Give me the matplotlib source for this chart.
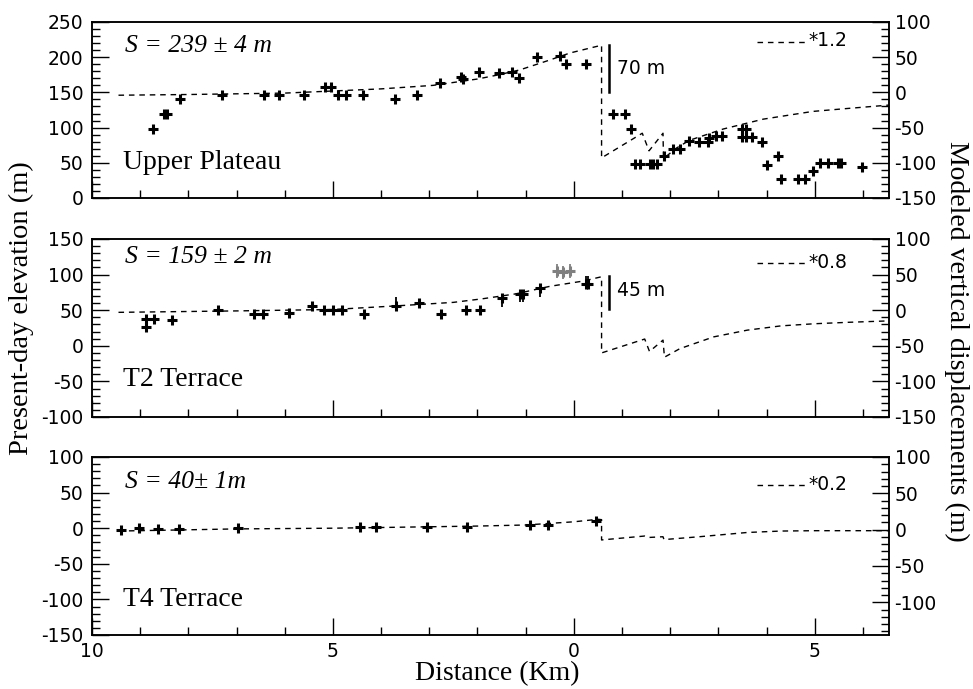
import matplotlib
matplotlib.use("Agg")
import matplotlib.pyplot as plt
from matplotlib.ticker import MultipleLocator, FixedLocator, FuncFormatter

plt.rcParams['axes.unicode_minus'] = False
plt.rcParams['font.family'] = ['DejaVu Sans']

# ---------------- data (distance in km; left of fault positive, right negative) -------------
# Upper Plateau
top_x = [8.73, 8.50, 8.45, 8.17, 7.31, 6.43, 6.11, 5.60, 5.17, 5.03, 4.89, 4.72, 4.37, 3.71,
         3.25, 2.77, 2.35, 2.30, 1.97, 1.56, 1.28, 1.14, 0.77, 0.29, 0.17, -0.25,
         -0.81, -1.06, -1.18, -1.26, -1.37, -1.58, -1.65, -1.72, -1.87, -2.05, -2.21,
         -2.38, -2.59, -2.78, -2.80, -2.96, -3.08, -3.48, -3.58, -3.48, -3.58, -3.69,
         -3.91, -4.00, -4.24, -4.30, -4.65, -4.79, -4.96, -5.10, -5.28, -5.48, -5.55, -5.97]
top_y = [98, 119, 119, 140, 146, 146, 146, 147, 157, 157, 146, 146, 146, 140,
         146, 164, 172, 169, 179, 178, 179, 171, 200, 201, 190, 190,
         119, 119, 98, 48, 48, 48, 48, 48, 59, 69, 69,
         81, 80, 80, 85, 88, 88, 98, 98, 87, 87, 87,
         80, 47, 59, 27, 27, 27, 38, 50, 50, 50, 50, 44]
top_model_x = [9.45, 8.0, 7.0, 6.0, 5.0, 4.0, 2.92, 2.0, 1.56, 1.12, 0.5, 0.08, -0.575,
               -0.575, -1.42, -1.56, -1.85, -1.86, -2.13, -2.40, -3.10, -3.93, -4.96, -5.65, -6.54]
top_model_y = [146, 147, 148, 149, 152, 155, 160, 169, 175, 182, 196, 206, 217,
               57, 92, 67, 92, 56, 71, 82, 98, 112, 123, 127, 132]

# T2 Terrace
mid_x = [8.87, 8.72, 8.88, 8.33, 7.39, 6.64, 6.45, 5.91, 5.44, 5.19, 5.00, 4.82, 4.36,
         3.69, 3.21, 2.75, 2.24, 1.94, 1.50, 1.12, 1.05, 0.71, -0.25, -0.29]
mid_y = [37, 37, 26, 36, 50, 45, 45, 46, 56, 50, 50, 50, 45,
         56, 60, 45, 50, 50, 67, 73, 73, 81, 87, 87]
mid_err_lo = [0, 0, 0, 0, 0, 0, 0, 0, 0, 0, 0, 0, 0,
              0, 0, 0, 0, 0, 12, 11, 11, 12, 0, 0]
mid_err_hi = [0, 0, 0, 0, 0, 0, 0, 0, 0, 0, 0, 0, 0,
              12, 0, 0, 0, 0, 0, 0, 0, 3, 11, 11]
mid_grey_x = [0.36, 0.22, 0.08]
mid_grey_y = [105, 103, 105]
mid_grey_err = [9.5, 9.5, 9.5]
mid_model_x = [9.45, 7.0, 5.0, 3.7, 2.5, 1.9, 1.2, 0.5, -0.2, -0.575,
               -0.575, -1.47, -1.57, -1.85, -1.88, -2.2, -2.9, -3.6, -4.3, -5.0, -5.7, -6.54]
mid_model_y = [47, 49, 51, 56, 61, 66, 73, 83.5, 91, 97,
               -10, 9.5, -8, 8, -16, -4, 12.5, 22, 28, 31, 33, 35]

# T4 Terrace
bot_x = [9.40, 9.02, 8.62, 8.19, 6.98, 4.44, 4.11, 3.04, 2.21, 0.91, 0.53, -0.46]
bot_y = [-3, 0, -1, -1, 0, 2, 2, 2, 2, 4.5, 4.5, 10.5]
bot_model_x = [9.45, 7.0, 5.0, 3.0, 2.0, 1.0, 0.0, -0.5, -0.575,
               -0.575, -1.47, -1.55, -1.85, -1.87, -2.6, -3.6, -4.3, -5.0, -6.54]
bot_model_y = [-4, -1, 0, 2, 3, 4.5, 9, 12.5, 12,
               -16.5, -11, -13, -12, -16, -12, -6, -4, -3.5, -3.5]

panel_names = ["Upper Plateau", "T2 Terrace", "T4 Terrace"]
slip_labels = ["S = 239 ± 4 m", "S = 159 ± 2 m", "S = 40± 1m"]
scale_labels = ["*1.2", "*0.8", "*0.2"]
left_ylims = [(0, 250), (-100, 150), (-150, 100)]
right_ylims = [(-150, 100), (-150, 100), (-145, 100)]
x_ticks = [10, 5, 0, -5]

# ---------------- layout ----------------
W, H = 973, 689
fig = plt.figure(figsize=(W / 100, H / 100), dpi=100)
L, R = 92, 889
panels_px = [(22, 198), (239, 417), (457, 635)]
name_y = [0.20, 0.208, 0.197]
slip_y = [0.864, 0.90, 0.861]
legend_y = [0.888, 0.863, 0.843]

TICK_FS = 13.5
SERIF = 'Liberation Serif'
dash = (4, 3.5)

axes = []
for i, (t, b) in enumerate(panels_px):
    ax = fig.add_axes([L / W, (H - b) / H, (R - L) / W, (b - t) / H])
    ax.set_xlim(10, -6.54)
    ax.set_ylim(*left_ylims[i])
    for s in ax.spines.values():
        s.set_linewidth(1.1)
    ax.xaxis.set_major_locator(FixedLocator(x_ticks))
    ax.xaxis.set_minor_locator(MultipleLocator(1))
    ax.xaxis.set_major_formatter(FuncFormatter(lambda v, p: f"{abs(v):g}"))
    ax.yaxis.set_major_locator(MultipleLocator(50))
    ax.yaxis.set_minor_locator(MultipleLocator(10))
    ax.tick_params(axis='both', which='major', direction='in', length=12, width=1.0,
                   labelsize=TICK_FS, top=False, right=False)
    ax.tick_params(axis='both', which='minor', direction='in', length=5.5, width=1.0,
                   top=False, right=False)
    ax.tick_params(axis='y', pad=6)
    ax.tick_params(axis='x', pad=5)
    if i < 2:
        ax.tick_params(axis='x', labelbottom=False)

    axr = ax.twinx()
    axr.set_ylim(*right_ylims[i])
    axr.yaxis.set_major_locator(MultipleLocator(50))
    axr.yaxis.set_minor_locator(MultipleLocator(10))
    axr.tick_params(axis='y', which='major', direction='in', length=12, width=1.0,
                    labelsize=TICK_FS, pad=4)
    axr.tick_params(axis='y', which='minor', direction='in', length=5.5, width=1.0)
    for s in axr.spines.values():
        s.set_linewidth(1.1)

    ax.text(0.039, name_y[i], panel_names[i], transform=ax.transAxes, fontsize=20,
            family=SERIF, ha='left', va='center')
    ax.text(0.041, slip_y[i], slip_labels[i], transform=ax.transAxes, fontsize=18.5,
            family=SERIF, style='italic', ha='left', va='center')
    ax.plot([0.834, 0.898], [legend_y[i], legend_y[i]], transform=ax.transAxes,
            color='black', lw=1.0, dashes=dash)
    ax.text(0.899, legend_y[i] + 0.005, scale_labels[i], transform=ax.transAxes,
            fontsize=TICK_FS, ha='left', va='center')
    axes.append(ax)

ax1, ax2, ax3 = axes
mk = dict(linestyle='none', marker='+', ms=7, mew=2.2, color='black', zorder=3)

# Upper Plateau
ax1.plot(top_model_x, top_model_y, color='black', lw=1.0, dashes=dash)
ax1.plot(top_x, top_y, **mk)
ax1.plot([-0.73, -0.73], [151, 217], color='black', lw=1.8)
ax1.text(-0.90, 184, "70 m", fontsize=TICK_FS, ha='left', va='center')

# T2 Terrace
ax2.plot(mid_model_x, mid_model_y, color='black', lw=1.0, dashes=dash)
ax2.errorbar(mid_x, mid_y, yerr=[mid_err_lo, mid_err_hi], fmt='none', ecolor='black',
             elinewidth=1.3, capsize=0, zorder=3)
ax2.plot(mid_x, mid_y, **mk)
ax2.errorbar(mid_grey_x, mid_grey_y, yerr=mid_grey_err, fmt='none', ecolor='#808080',
             elinewidth=1.3, capsize=0, zorder=3)
ax2.plot(mid_grey_x, mid_grey_y, linestyle='none', marker='+', ms=7, mew=2.2,
         color='#808080', zorder=3)
ax2.plot([-0.73, -0.73], [52, 98], color='black', lw=1.8)
ax2.text(-0.90, 77, "45 m", fontsize=TICK_FS, ha='left', va='center')

# T4 Terrace
ax3.plot(bot_model_x, bot_model_y, color='black', lw=1.0, dashes=dash)
ax3.plot(bot_x, bot_y, **mk)

# axis labels
fig.text(497 / W, 1 - 674 / H, "Distance (Km)", fontsize=20, family=SERIF,
         ha='center', va='center')
fig.text(21 / W, 1 - 308 / H, "Present-day elevation (m)", fontsize=20.5, family=SERIF,
         rotation=90, ha='center', va='center')
fig.text(957 / W, 1 - 341 / H, "Modeled vertical displacements (m)", fontsize=20,
         family=SERIF, rotation=270, ha='center', va='center')

fig.savefig("out.png", dpi=100)
